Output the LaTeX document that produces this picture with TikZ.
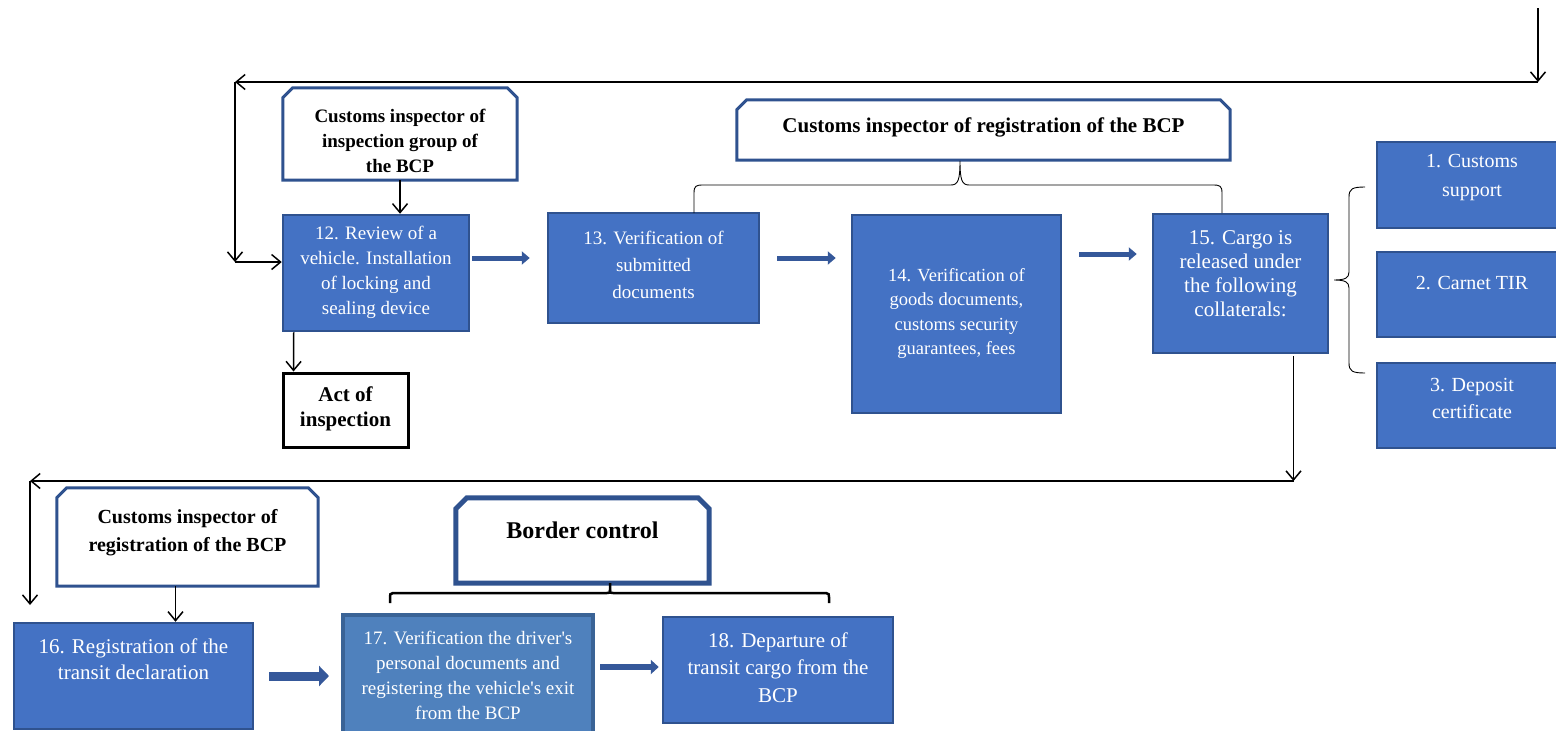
\documentclass[tikz,border=0pt]{standalone}
\usepackage{fontspec}
\setmainfont{Liberation Serif}
\usetikzlibrary{arrows.meta,calc}

\definecolor{boxfill}{HTML}{4472C4}
\definecolor{boxline}{HTML}{2F528F}
\definecolor{boxfillb}{HTML}{4F81BD}
\definecolor{boxlineb}{HTML}{3A6396}
\definecolor{flowarrow}{HTML}{35589A}

\newcommand{\fsz}[2]{\fontsize{#1}{#2}\selectfont}

\tikzset{
  bluebox/.style={draw=boxline, fill=boxfill, line width=2.5pt, inner sep=0pt},
  lightbox/.style={draw=boxlineb, fill=boxfillb, line width=4pt, inner sep=0pt},
  boxtext/.style={align=center, inner sep=0pt, text=white},
  hdrbox/.style={inner sep=0pt},
  hdrline/.style={draw=boxline, fill=white, line join=miter},
  hdrtext/.style={align=center, inner sep=0pt, text=black},
  actbox/.style={draw=black, fill=white, line width=3pt, inner sep=0pt},
  thinarrow/.style={draw=black, line width=1.5pt, -{Straight Barb[length=9pt,width=15pt]}},
  thickarrow/.style={draw=flowarrow, line width=5pt, -{Triangle[length=8pt,width=13pt]}},
  bracestyle/.style={draw=black, line width=0.9pt},
  bracketstyle/.style={draw=black, line width=2.5pt},
}

\begin{document}
\begin{tikzpicture}[x=1pt,y=-1pt]
\useasboundingbox (0,0) rectangle (1556,731);
\fill[white] (0,0) rectangle (1556,731);

% ---- header outlines (chamfered top corners) ----
\node[hdrbox, minimum width=234pt, minimum height=92pt] (h1) at (400,134) {};
\node[hdrbox, minimum width=493pt, minimum height=60pt] (h2) at (983.5,130) {};
\node[hdrbox, minimum width=261pt, minimum height=98pt] (h3) at (187.5,537) {};
\node[hdrbox, minimum width=253pt, minimum height=85pt] (h4) at (582.5,540.5) {};
\foreach \n/\c/\w in {h1/10/3pt, h2/10/3pt, h3/10/3pt, h4/11/5pt}{
  \draw[hdrline, line width=\w] (\n.south west) -- ($(\n.north west)+(0,\c)$)
    -- ($(\n.north west)+(\c,0)$) -- ($(\n.north east)+(-\c,0)$)
    -- ($(\n.north east)+(0,\c)$) -- (\n.south east) -- cycle;
}
\node[hdrtext, font=\fsz{19}{25}\bfseries] (h1t) at (400,141)
  {Customs inspector of\\inspection group of\\the BCP};
\node[hdrtext, font=\fsz{21}{25}\bfseries] (h2t) at (983.5,127)
  {Customs inspector of registration of the BCP};
\node[hdrtext, font=\fsz{20}{28}\bfseries] (h3t) at (187.5,533)
  {Customs inspector of\\registration of the BCP};
\node[hdrtext, font=\fsz{24}{28}\bfseries] (h4t) at (582.5,530)
  {Border control};

% ---- process boxes ----
\node[bluebox, minimum width=186pt, minimum height=116pt] (b12) at (376,273) {};
\node[boxtext, font=\fsz{19}{25}] (b12t) at (376,272.5)
  {12. Review of a\\vehicle. Installation\\of locking and\\sealing device};

\node[bluebox, minimum width=211pt, minimum height=110pt] (b13) at (653.5,268) {};
\node[boxtext, font=\fsz{19}{27}] (b13t) at (653.5,265)
  {13. Verification of\\submitted\\documents};

\node[bluebox, minimum width=209pt, minimum height=198pt] (b14) at (956.5,314) {};
\node[boxtext, font=\fsz{18.5}{24.5}] (b14t) at (956.5,313.5)
  {14. Verification of\\goods documents,\\customs security\\guarantees, fees};

\node[bluebox, minimum width=175pt, minimum height=139pt] (b15) at (1240.5,283.5) {};
\node[boxtext, font=\fsz{21}{24}] (b15t) at (1240.5,274)
  {15. Cargo is\\released under\\the following\\collaterals:};

\node[bluebox, minimum width=190pt, minimum height=86pt] (c1) at (1472,185) {};
\node[boxtext, font=\fsz{20}{29}] (c1t) at (1472,177.5) {1. Customs\\support};
\node[bluebox, minimum width=190pt, minimum height=85pt] (c2) at (1472,294.5) {};
\node[boxtext, font=\fsz{20}{29}] (c2t) at (1472,283) {2. Carnet TIR};
\node[bluebox, minimum width=190pt, minimum height=85pt] (c3) at (1472,405.5) {};
\node[boxtext, font=\fsz{20}{27}] (c3t) at (1472,398.5) {3. Deposit\\certificate};

\node[actbox, minimum width=125pt, minimum height=74pt] (act) at (345.5,410) {};
\node[hdrtext, font=\fsz{21}{25}\bfseries] (actt) at (345.5,408.5) {Act of\\inspection};

\node[bluebox, minimum width=239pt, minimum height=106pt] (b16) at (133.5,676) {};
\node[boxtext, font=\fsz{21}{26}] (b16t) at (133.5,659)
  {16. Registration of the\\transit declaration};

\node[lightbox, minimum width=250pt, minimum height=120pt] (b17) at (468,675) {};
\node[boxtext, font=\fsz{19}{25}] (b17t) at (468,675)
  {17. Verification the driver\textquotesingle s\\personal documents and\\registering the vehicle\textquotesingle s exit\\from the BCP};

\node[bluebox, minimum width=230pt, minimum height=106pt] (b18) at (778,670) {};
\node[boxtext, font=\fsz{21}{27.5}] (b18t) at (778,667.5)
  {18. Departure of\\transit cargo from the\\BCP};

% ---- braces ----
\draw[bracestyle] (694,213) -- (694,193) .. controls (694,186) and (696,185) .. (703,185)
  -- (951,185) .. controls (958,185) and (960,180) .. (960,161)
  .. controls (960,180) and (962,185) .. (969,185)
  -- (1213,185) .. controls (1220,185) and (1222,186) .. (1222,193) -- (1222,213);
\draw[bracestyle] (1365,187) .. controls (1352,187) and (1349,189) .. (1349,197)
  -- (1349,272) .. controls (1349,278) and (1345,280) .. (1334,280)
  .. controls (1345,280) and (1349,282) .. (1349,288)
  -- (1349,363) .. controls (1349,371) and (1352,373) .. (1365,373);
\draw[bracketstyle] (390,603) -- (390,597) .. controls (390,594) .. (393,593)
  -- (607,593) .. controls (610,593) .. (610,590) -- (610,583);
\draw[bracketstyle] (610,590) .. controls (610,593) .. (613,593)
  -- (826,593) .. controls (829,594) .. (829,597) -- (829,603);

% ---- return loops ----
\coordinate (topin) at (1538,8);
\coordinate (j1) at (1538,82);
\coordinate (j2) at (235,82);
\coordinate (j3) at (235,262);
\coordinate (j4) at (1293.5,481);
\coordinate (j5) at (30,481);
\coordinate (j6) at (30,605);

\draw[thinarrow] (topin) -- (j1);
\draw[thinarrow] (j1) -- (j2);
\draw[thinarrow] (j2) -- (j3);
\draw[thinarrow] (j3) -- ($(b12.west)+(0,-11)$);
\draw[thinarrow] (h1.south) -- ($(b12.north)+(24,0)$);
\draw[thinarrow] ($(b12.south west)+(12,0)$) -- ($(act.north west)+(12,0)$);
\draw[thinarrow] ($(b15.south)+(53,2)$) -- (j4);
\draw[thinarrow] (j4) -- (j5);
\draw[thinarrow] (j5) -- (j6);
\draw[thinarrow] ($(h3.south)+(-12,0)$) -- ($(b16.north)+(42,0)$);

% ---- flow arrows ----
\draw[thickarrow] ($(b12.east)+(2,-15)$) -- ($(b13.west)+(-17,-10)$);
\draw[thickarrow] ($(b13.east)+(17,-10)$) -- ($(b14.west)+(-15,-56)$);
\draw[thickarrow] ($(b14.east)+(17,-60)$) -- ($(b15.west)+(-15,-29.5)$);
\draw[thickarrow, line width=9pt, -{Triangle[length=10pt,width=20pt]}]
  ($(b16.east)+(15,0)$) -- ($(b17.west)+(-12,1)$);
\draw[thickarrow, line width=6pt, -{Triangle[length=8pt,width=14pt]}]
  ($(b17.east)+(5,-8)$) -- ($(b18.west)+(-3,-3)$);
\end{tikzpicture}
\end{document}
